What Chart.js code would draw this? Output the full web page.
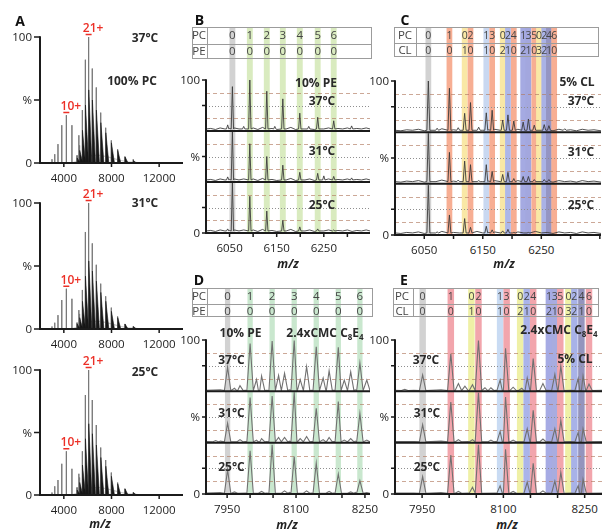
<!DOCTYPE html>
<html>
<head>
<meta charset="utf-8">
<title>Native MS of lipid binding</title>
<script src="https://cdn.jsdelivr.net/npm/chart.js@4.4.1/dist/chart.umd.min.js"></script>
<style>
  html, body { margin: 0; padding: 0; background: #fff; }
  #fig { position: relative; width: 603px; height: 531px; overflow: hidden;
         font-family: "Open Sans", "DejaVu Sans", sans-serif; color: #222; }
  #fig canvas { position: absolute; }
  .lbl { position: absolute; white-space: nowrap; line-height: 1; transform: translate(-50%, -50%); }
  .lbl.r { transform: translate(-100%, -50%); }
  .tick { font-size: 11.5px; color: #222; }
  .bold { font-size: 12px; font-weight: 700; color: #2a2a2a; }
  .letter { font-size: 14px; font-weight: 700; color: #111; }
  .red { font-size: 12px; font-weight: 600; color: #ec2f26; }
  .mz { font-size: 12px; font-weight: 700; font-style: italic; }
  .cell { font-size: 11.5px; color: #454545; }
  .cell.tight { font-size: 10.5px; }
  .tbl { position: absolute; box-sizing: border-box; border: 1px solid #9c9c9c; }
  .tbl .hl { position: absolute; left: 0; right: 0; border-top: 1px solid #9c9c9c; }
  .tbl .vl { position: absolute; top: 0; bottom: 0; border-left: 1px solid #9c9c9c; }
  sub { font-size: 8px; vertical-align: -3px; line-height: 0; }
</style>
</head>
<body>
<div id="fig"></div>
<script>
// ---------- A: full spectra, 100% PC ----------
const aTicks = [4000, 8000, 12000];
const aLadderMz = [3006, 3238, 3508, 3826, 4209, 4677, 5261];   // 10+ ladder
const aLadder37 = [3, 7, 15, 30, 38, 30, 22];
const aLadder31 = [2, 5, 11, 23, 32, 24, 15];
const aLadder25 = [2, 7, 12, 25, 35, 21, 17];
const aSeriesMz = [5107, 5320, 5552, 5804, 6080, 6384, 6720, 7094, 7511, 7980, 8512, 9120, 9822]; // 21+ series
const aSeries37 = [6, 14, 42, 82, 100, 75, 60, 40, 28, 18, 11, 5, 3];
const aSeries31 = [5, 12, 31, 77, 100, 68, 51, 36, 26, 17, 10, 4, 2];
const aSeries25 = [6, 14, 35, 80, 100, 76, 56, 38, 28, 18, 10, 5, 2];
const aBound37 = [4, 10, 26, 46, 58, 50, 42, 32, 24, 16, 10, 5, 2];    // lipid-bound envelope
const aBound31 = [4, 9, 22, 42, 54, 46, 38, 29, 22, 14, 9, 4, 2];
const aBound25 = [4, 10, 24, 45, 57, 49, 40, 30, 23, 15, 9, 5, 2];
const aHumpMz = [4600, 5200, 5800, 6400, 7000, 7600, 8200, 8800, 9400, 10000, 10800];
const aHump = [0, 1.5, 4, 6, 6, 5, 3.5, 2, 1, 0.5, 0];

// ---------- B: 21+ zoom, 10% PE ----------
const bTicks = [6050, 6100, 6150, 6200, 6250, 6300];
const bTickLabels = [6050, 6150, 6250];
const bBandMz = [6056, 6093, 6129, 6163, 6199, 6237, 6271];
const bPC = [0, 1, 2, 3, 4, 5, 6];
const bPE = [0, 0, 0, 0, 0, 0, 0];
const bPeaks37 = [[6046, 12], [6056, 87], [6080, 9], [6093, 100], [6129, 78], [6146, 9], [6163, 63], [6199, 35], [6218, 9], [6237, 27], [6271, 20], [6309, 10]];
const bPeaks31 = [[6046, 10], [6056, 100], [6093, 75], [6129, 50], [6163, 33], [6199, 19], [6237, 17], [6250, 12], [6271, 11], [6309, 8]];
const bPeaks25 = [[6046, 8], [6056, 100], [6093, 72], [6129, 43], [6163, 25], [6199, 12], [6237, 8], [6271, 6]];
const bNoise = [[6000, 4], [6010, 5], [6020, 3], [6030, 6], [6040, 4], [6050, 5], [6060, 6], [6070, 4], [6080, 6], [6090, 4], [6100, 6], [6110, 3], [6120, 7], [6130, 4], [6140, 5], [6150, 3], [6160, 6], [6170, 4], [6180, 7], [6190, 3], [6200, 5], [6210, 4], [6220, 6], [6230, 3], [6240, 5], [6250, 4], [6260, 6], [6270, 3], [6280, 5], [6290, 4], [6300, 6], [6310, 3], [6320, 5], [6330, 4], [6340, 6], [6348, 4]];

// ---------- C: 21+ zoom, 5% CL ----------
const cBandMz = [6057, 6093, 6119, 6129, 6156, 6166, 6184, 6193, 6203, 6219, 6228, 6238, 6246, 6255, 6263, 6272];
const cPC = [0, 1, 0, 2, 1, 3, 0, 2, 4, 1, 3, 5, 0, 2, 4, 6];
const cCL = [0, 0, 1, 0, 1, 0, 2, 1, 0, 2, 1, 0, 3, 2, 1, 0];
const cPeaks37 = [[6057, 100], [6072, 8], [6093, 86], [6108, 9], [6119, 37], [6129, 58], [6143, 10], [6156, 38], [6166, 43], [6184, 24], [6193, 34], [6203, 22], [6219, 20], [6228, 26], [6238, 14], [6255, 15], [6263, 13], [6290, 7]];
const cPeaks31 = [[6057, 98], [6093, 61], [6108, 7], [6119, 44], [6129, 37], [6143, 6], [6156, 37], [6166, 24], [6184, 18], [6193, 22], [6203, 10], [6219, 14], [6228, 14], [6238, 8], [6255, 8], [6263, 8]];
const cPeaks25 = [[6057, 97], [6072, 6], [6093, 39], [6119, 32], [6129, 15], [6156, 17], [6166, 10], [6184, 8], [6193, 11], [6203, 5], [6228, 5]];
const cNoise = [[6000, 4], [6010, 3], [6020, 5], [6030, 4], [6040, 6], [6050, 3], [6060, 5], [6070, 4], [6080, 7], [6090, 4], [6100, 5], [6110, 4], [6120, 6], [6130, 4], [6140, 7], [6150, 4], [6160, 5], [6170, 6], [6180, 4], [6190, 5], [6200, 3], [6210, 6], [6220, 4], [6230, 5], [6240, 7], [6250, 4], [6260, 5], [6270, 3], [6280, 6], [6290, 4], [6300, 5], [6310, 3], [6320, 6], [6330, 4], [6340, 5], [6352, 3]];

// ---------- D: 16+ zoom, 10% PE + 2.4xCMC C8E4 ----------
const dTicks = [7950, 8000, 8050, 8100, 8150, 8200, 8250];
const dTickLabels = [7950, 8100, 8250];
const dBandMz = [7951, 8000, 8048, 8096, 8144, 8192, 8239];
const dPC = [0, 1, 2, 3, 4, 5, 6];
const dPE = [0, 0, 0, 0, 0, 0, 0];
const dPeaks37 = [[7951, 47], [7966, 6], [7978, 11], [8000, 93], [8014, 23], [8025, 30], [8048, 98], [8062, 31], [8075, 35], [8096, 99], [8109, 23], [8123, 48], [8144, 87], [8159, 26], [8172, 40], [8192, 86], [8205, 22], [8219, 38], [8239, 55], [8254, 22]];
const dPeaks31 = [[7925, 4], [7951, 38], [7978, 6], [8000, 88], [8014, 5], [8025, 8], [8048, 91], [8062, 10], [8075, 10], [8096, 98], [8109, 8], [8123, 12], [8144, 67], [8159, 6], [8172, 10], [8192, 80], [8205, 5], [8219, 8], [8239, 57], [8254, 5]];
const dPeaks25 = [[7951, 47], [7966, 4], [8000, 84], [8025, 5], [8048, 96], [8075, 6], [8096, 73], [8123, 6], [8144, 60], [8172, 5], [8192, 39], [8219, 4], [8239, 26], [8254, 3]];
const dNoise = [[7904, 2], [7935, 3], [7990, 2], [8036, 2], [8086, 3], [8134, 2], [8182, 2], [8229, 3], [8261, 2]];

// ---------- E: 16+ zoom, 5% CL + 2.4xCMC C8E4 ----------
const eTicks = [7950, 8000, 8050, 8100, 8150, 8200, 8250];
const eTickLabels = [7950, 8100, 8250];
const eBandMz = [7951, 8003, 8041, 8054, 8094, 8106, 8131, 8143, 8155, 8184, 8195, 8205, 8220, 8231, 8244, 8258];
const ePC = [0, 1, 0, 2, 1, 3, 0, 2, 4, 1, 3, 5, 0, 2, 4, 6];
const eCL = [0, 0, 1, 0, 1, 0, 2, 1, 0, 2, 1, 0, 3, 2, 1, 0];
const ePeaks37 = [[7918, 4], [7951, 32], [8003, 73], [8017, 15], [8029, 10], [8043, 13], [8054, 99], [8066, 7], [8077, 7], [8094, 22], [8104, 84], [8118, 8], [8134, 6], [8144, 26], [8155, 64], [8173, 15], [8195, 33], [8206, 49], [8238, 25], [8247, 30], [8258, 14]];
const ePeaks31 = [[7951, 35], [8003, 79], [8017, 6], [8043, 6], [8054, 97], [8077, 5], [8094, 22], [8104, 89], [8118, 5], [8144, 27], [8155, 63], [8173, 7], [8195, 27], [8206, 43], [8238, 20], [8247, 27]];
const ePeaks25 = [[7951, 34], [8003, 76], [8017, 5], [8043, 13], [8054, 96], [8094, 16], [8104, 87], [8118, 5], [8144, 23], [8155, 60], [8173, 6], [8195, 25], [8206, 42], [8238, 16], [8247, 29]];
const eNoise = [[7900, 2], [7935, 2], [7985, 3], [8035, 2], [8085, 2], [8125, 3], [8182, 2], [8225, 2], [8282, 2]];

// ---------- styles ----------
const AXIS = "#1b1b1b";
const RED = "#ec2f26";
const GRAY_BAND = "#d2d2d2";
const PAL_B = { red: "#d9ebbf" };
const PAL_D = { red: "#c9e7ce" };
const PAL_C = { red: "#f7ae93", yellow: "#f9e8a6",
  mix: { "1,1": "#c9d8f1", "2,1": "#adb7e9", "1,2": "#a5aae2", "3,1": "#a3a7de", "2,2": "#aab2e6", "4,1": "#9595c3" } };
const PAL_E = { red: "#f2a5ac", yellow: "#eff0a6",
  mix: { "1,1": "#c9dbf3", "2,1": "#aab4ea", "1,2": "#a6abe4", "3,1": "#a8acdf", "2,2": "#a8b2e8", "4,1": "#9494bd" } };
const GUIDES = [
  { value: 75, dash: [4, 3], color: "rgba(176,122,95,0.65)" },
  { value: 50, dash: [1, 2], color: "#8f8f8f" },
  { value: 25, dash: [4, 3], color: "rgba(176,122,95,0.65)" }
];

const fig = document.getElementById("fig");

function put(text, x, y, cls, html) {
  const d = document.createElement("div");
  d.className = "lbl " + (cls || "");
  if (html) d.innerHTML = text; else d.textContent = text;
  d.style.left = x + "px";
  d.style.top = y + "px";
  fig.appendChild(d);
  return d;
}

function canvasAt(left, top, w, h) {
  const c = document.createElement("canvas");
  c.width = w; c.height = h;
  c.style.left = left + "px"; c.style.top = top + "px";
  c.style.width = w + "px"; c.style.height = h + "px";
  fig.appendChild(c);
  return c;
}

// peaks as narrow triangles laid over a baseline
function trace(peaks, noise, w, base) {
  const pts = [];
  noise.forEach(([x, y]) => {
    if (!peaks.some(([m]) => Math.abs(x - m) <= w + 1)) pts.push({ x, y });
  });
  peaks.forEach(([m, h]) => pts.push({ x: m - w, y: base }, { x: m, y: h }, { x: m + w, y: base }));
  return pts.sort((a, b) => a.x - b.x);
}

function spikes(mzs, hs) {
  const pts = [];
  mzs.forEach((m, i) => pts.push({ x: m - 4, y: 0 }, { x: m, y: hs[i] }, { x: m + 4, y: 0 }));
  return pts;
}

function envelopes(mzs, hs) {
  const pts = [];
  mzs.forEach((m, i) => pts.push({ x: m + 10, y: 0 }, { x: m + 14, y: hs[i] }, { x: m + 270, y: 0 }));
  return pts;
}

function lipidBands(mzs, pcs, others, pal) {
  return mzs.map((mz, i) => {
    const pc = pcs[i], o = others[i];
    let color;
    if (!pc && !o) color = GRAY_BAND;
    else if (!o) color = pal.red;
    else if (!pc) color = pal.yellow;
    else color = pal.mix[pc + "," + o];
    return { mz, color };
  });
}

function makeFrame(o) {
  return {
    id: "frame",
    beforeDatasetsDraw(chart) {
      const { ctx, chartArea: area, scales } = chart;
      const xs = scales.x;
      ctx.save();
      o.bands.forEach((b) => {
        const x0 = xs.getPixelForValue(b.mz - o.bandWidth / 2);
        const x1 = xs.getPixelForValue(b.mz + o.bandWidth / 2);
        ctx.fillStyle = b.color;
        ctx.fillRect(x0, 0, x1 - x0, area.bottom);
      });
      if (o.guides) {
        ctx.lineWidth = 1;
        o.yIds.forEach((id) => {
          GUIDES.forEach((g) => {
            const y = Math.round(scales[id].getPixelForValue(g.value)) + 0.5;
            ctx.strokeStyle = g.color;
            ctx.setLineDash(g.dash);
            ctx.beginPath();
            ctx.moveTo(area.left, y);
            ctx.lineTo(area.right, y);
            ctx.stroke();
          });
        });
      }
      ctx.restore();
    },
    afterDatasetsDraw(chart) {
      const { ctx, chartArea: area, scales } = chart;
      const xs = scales.x;
      const top = scales[o.yIds[0]];
      const bottom = scales[o.yIds[o.yIds.length - 1]];
      ctx.save();
      ctx.strokeStyle = AXIS;
      ctx.lineWidth = 2;
      ctx.beginPath();
      o.yIds.forEach((id) => {
        const y = scales[id].getPixelForValue(0);
        ctx.moveTo(area.left, y);
        ctx.lineTo(area.right, y);
      });
      ctx.moveTo(area.left, area.top - 0.75);
      ctx.lineTo(area.left, area.bottom + 1);
      ctx.stroke();

      ctx.lineWidth = 1.5;
      ctx.beginPath();
      const yt = [top.getPixelForValue(100), bottom.getPixelForValue(0)];
      o.yIds.forEach((id) => yt.push(scales[id].getPixelForValue(50)));
      yt.forEach((y) => { ctx.moveTo(area.left - o.tickLen, y); ctx.lineTo(area.left, y); });
      o.xTicks.forEach((v) => {
        const x = xs.getPixelForValue(v);
        ctx.moveTo(x, area.bottom);
        ctx.lineTo(x, area.bottom + 4);
      });
      ctx.stroke();

      ctx.strokeStyle = RED;
      ctx.lineWidth = 1.5;
      ctx.beginPath();
      o.marks.forEach((m) => {
        const x = xs.getPixelForValue(m.mz);
        const y = top.getPixelForValue(m.h) - 2.5;
        ctx.moveTo(x - 3, y);
        ctx.lineTo(x + 3, y);
      });
      ctx.stroke();
      ctx.restore();
    }
  };
}

function makePanel(cfg) {
  const cv = canvasAt(cfg.box[0], cfg.box[1], cfg.box[2], cfg.box[3]);
  const yIds = [];
  for (let i = 0; i < cfg.rows; i++) yIds.push("y" + i);
  const scales = { x: { type: "linear", min: cfg.xMin, max: cfg.xMax, display: false } };
  // left-stacked boxes are placed last-defined first, so define the bottom row first
  for (let i = cfg.rows - 1; i >= 0; i--) {
    scales[yIds[i]] = { type: "linear", axis: "y", position: "left", stack: "temps", stackWeight: 1,
                        min: 0, max: 100, display: false };
  }
  const chart = new Chart(cv, {
    type: "line",
    data: {
      datasets: cfg.datasets.map((d) => Object.assign({
        pointRadius: 0, tension: 0, fill: false, borderWidth: 1, xAxisID: "x"
      }, d, { yAxisID: yIds[d.row || 0] }))
    },
    options: {
      responsive: false,
      animation: false,
      devicePixelRatio: 1,
      events: [],
      layout: { padding: cfg.pad },
      scales,
      plugins: { legend: { display: false }, tooltip: { enabled: false } }
    },
    plugins: [makeFrame(Object.assign({ bands: [], bandWidth: 0, guides: false, marks: [], tickLen: 4 }, cfg.frame, { yIds }))]
  });
  return { chart, cv, yIds };
}

function axisText(p, xLabels, gap) {
  const { chart, cv, yIds } = p;
  const a = chart.chartArea, xs = chart.scales.x;
  const ox = cv.offsetLeft, oy = cv.offsetTop;
  const sTop = chart.scales[yIds[0]];
  const sMid = chart.scales[yIds[(yIds.length - 1) >> 1]];
  const sBot = chart.scales[yIds[yIds.length - 1]];
  put("100", ox + a.left - gap, oy + sTop.getPixelForValue(100), "tick r");
  put("%", ox + a.left - gap, oy + sMid.getPixelForValue(50), "tick r");
  put("0", ox + a.left - gap, oy + sBot.getPixelForValue(0), "tick r");
  xLabels.forEach((v) => put(String(v), ox + xs.getPixelForValue(v), oy + a.bottom + 14.5, "tick"));
}

function tableBox(left, top, w, h, split, colX, names, rowY, nameX) {
  const t = document.createElement("div");
  t.className = "tbl";
  t.style.left = left + "px"; t.style.top = top + "px";
  t.style.width = w + "px"; t.style.height = h + "px";
  const hl = document.createElement("div"); hl.className = "hl"; hl.style.top = split + "px";
  const vl = document.createElement("div"); vl.className = "vl"; vl.style.left = colX + "px";
  t.appendChild(hl); t.appendChild(vl);
  fig.appendChild(t);
  names.forEach((n, i) => put(n, nameX, rowY[i], "cell"));
}

function tableDigits(p, mzs, rows, rowY, cls) {
  const xs = p.chart.scales.x, ox = p.cv.offsetLeft;
  rows.forEach((vals, r) => vals.forEach((v, i) => put(String(v), ox + xs.getPixelForValue(mzs[i]), rowY[r], cls)));
}

// ---------- panel A ----------
const aRows = [
  { top: 30, h: 142, ladder: aLadder37, series: aSeries37, bound: aBound37 },
  { top: 196, h: 142, ladder: aLadder31, series: aSeries31, bound: aBound31 },
  { top: 363, h: 141, ladder: aLadder25, series: aSeries25, bound: aBound25 }
];
const humpPts = aHumpMz.map((x, i) => ({ x, y: aHump[i] }));
aRows.forEach((r) => {
  const p = makePanel({
    box: [0, r.top, 190, r.h], pad: { left: 40, right: 7, top: 7, bottom: 9 },
    xMin: 2000, xMax: 14000, rows: 1,
    datasets: [
      { data: envelopes(aSeriesMz, r.bound), fill: "origin", backgroundColor: "#171717", borderColor: "#171717", borderWidth: 0.6 },
      { data: spikes(aLadderMz, r.ladder), borderColor: "#777" },
      { data: spikes(aSeriesMz, r.series), borderColor: "#777" },
      { data: humpPts, borderColor: "#c9c9c9", borderWidth: 1.2 }
    ],
    frame: { xTicks: aTicks, tickLen: 6,
             marks: [{ mz: aLadderMz[4], h: r.ladder[4] }, { mz: aSeriesMz[4], h: r.series[4] }] }
  });
  axisText(p, aTicks, 8);
  const xs = p.chart.scales.x, ys = p.chart.scales.y0, oy = p.cv.offsetTop;
  put("10+", xs.getPixelForValue(aLadderMz[4]) + 4.5, oy + ys.getPixelForValue(r.ladder[4]) - 9, "red");
  put("21+", xs.getPixelForValue(aSeriesMz[4]) + 4.5, oy + ys.getPixelForValue(r.series[4]) - 9, "red");
});
put("A", 20, 21, "letter");
put("37°C", 145, 38, "bold");
put("100% PC", 132, 81, "bold");
put("31°C", 145, 203, "bold");
put("25°C", 145, 372, "bold");
put("m/z", 100, 524, "mz");

// ---------- panel B ----------
const pB = makePanel({
  box: [190, 27, 185, 212], pad: { left: 16, right: 5, top: 53, bottom: 6 },
  xMin: 6000, xMax: 6348, rows: 3,
  datasets: [
    { row: 0, data: trace(bPeaks37, bNoise, 2.5, 4), borderColor: "#3c3c3c", borderWidth: 0.9 },
    { row: 1, data: trace(bPeaks31, bNoise, 2.5, 4), borderColor: "#3c3c3c", borderWidth: 0.9 },
    { row: 2, data: trace(bPeaks25, bNoise, 2.5, 4), borderColor: "#3c3c3c", borderWidth: 0.9 }
  ],
  frame: { bands: lipidBands(bBandMz, bPC, bPE, PAL_B), bandWidth: 12.5, guides: true, xTicks: bTicks }
});
axisText(pB, bTickLabels, 6);
tableBox(192, 27, 180, 32, 16, 14, ["PC", "PE"], [35, 51], 199);
tableDigits(pB, bBandMz, [bPC, bPE], [35, 51], "cell");
put("B", 199.5, 20, "letter");
put("10% PE", 316, 83, "bold");
put("37°C", 322, 101, "bold");
put("31°C", 322, 151, "bold");
put("25°C", 322, 205, "bold");
put("m/z", 288, 264, "mz");

// ---------- panel C ----------
const pC = makePanel({
  box: [385, 27, 218, 212], pad: { left: 10, right: 2, top: 54, bottom: 4 },
  xMin: 6000, xMax: 6352, rows: 3,
  datasets: [
    { row: 0, data: trace(cPeaks37, cNoise, 2.5, 4), borderColor: "#3c3c3c", borderWidth: 0.9 },
    { row: 1, data: trace(cPeaks31, cNoise, 2.5, 4), borderColor: "#3c3c3c", borderWidth: 0.9 },
    { row: 2, data: trace(cPeaks25, cNoise, 2.5, 4), borderColor: "#3c3c3c", borderWidth: 0.9 }
  ],
  frame: { bands: lipidBands(cBandMz, cPC, cCL, PAL_C), bandWidth: 9.8, guides: true, xTicks: bTicks.concat([6350]) }
});
axisText(pC, bTickLabels, 6);
tableBox(394, 27, 205, 30, 15, 21, ["PC", "CL"], [34.5, 49.5], 405);
tableDigits(pC, cBandMz, [cPC, cCL], [34.5, 49.5], "cell tight");
put("C", 405, 20, "letter");
put("5% CL", 577, 82, "bold");
put("37°C", 581, 101, "bold");
put("31°C", 581, 152, "bold");
put("25°C", 581, 205, "bold");
put("m/z", 504, 264, "mz");

// ---------- panel D ----------
const pD = makePanel({
  box: [190, 288, 185, 212], pad: { left: 16, right: 5, top: 52, bottom: 6 },
  xMin: 7904, xMax: 8261, rows: 3,
  datasets: [
    { row: 0, data: trace(dPeaks37, dNoise, 7, 1.5), borderColor: "#717171", borderWidth: 1.1 },
    { row: 1, data: trace(dPeaks31, dNoise, 7, 1.5), borderColor: "#717171", borderWidth: 1.1 },
    { row: 2, data: trace(dPeaks25, dNoise, 7, 1.5), borderColor: "#717171", borderWidth: 1.1 }
  ],
  frame: { bands: lipidBands(dBandMz, dPC, dPE, PAL_D), bandWidth: 11.5, guides: true, xTicks: dTicks }
});
axisText(pD, dTickLabels, 6);
tableBox(192, 288, 181, 29, 15, 14, ["PC", "PE"], [296, 311], 199);
tableDigits(pD, dBandMz, [dPC, dPE], [296, 311], "cell");
put("D", 199, 280, "letter");
put("10% PE", 240.5, 333, "bold");
put("2.4xCMC C<sub>8</sub>E<sub>4</sub>", 325, 333, "bold", true);
put("37°C", 231.5, 360, "bold");
put("31°C", 231.5, 413, "bold");
put("25°C", 231.5, 467, "bold");
put("m/z", 287, 525, "mz");

// ---------- panel E ----------
const pE = makePanel({
  box: [385, 288, 218, 212], pad: { left: 10, right: 1, top: 52, bottom: 6 },
  xMin: 7900, xMax: 8282, rows: 3,
  datasets: [
    { row: 0, data: trace(ePeaks37, eNoise, 6, 1.5), borderColor: "#717171", borderWidth: 1.1 },
    { row: 1, data: trace(ePeaks31, eNoise, 6, 1.5), borderColor: "#717171", borderWidth: 1.1 },
    { row: 2, data: trace(ePeaks25, eNoise, 6, 1.5), borderColor: "#717171", borderWidth: 1.1 }
  ],
  frame: { bands: lipidBands(eBandMz, ePC, eCL, PAL_E), bandWidth: 12, guides: true, xTicks: eTicks }
});
axisText(pE, eTickLabels, 6);
tableBox(393, 288, 206, 29, 15, 19, ["PC", "CL"], [295.5, 310.5], 402);
tableDigits(pE, eBandMz, [ePC, eCL], [295.5, 310.5], "cell tight");
put("E", 404, 280, "letter");
put("2.4xCMC C<sub>8</sub>E<sub>4</sub>", 559, 330, "bold", true);
put("5% CL", 575, 359, "bold");
put("37°C", 426, 360, "bold");
put("31°C", 427, 413, "bold");
put("25°C", 427, 467, "bold");
put("m/z", 507, 525, "mz");
</script>
</body>
</html>
